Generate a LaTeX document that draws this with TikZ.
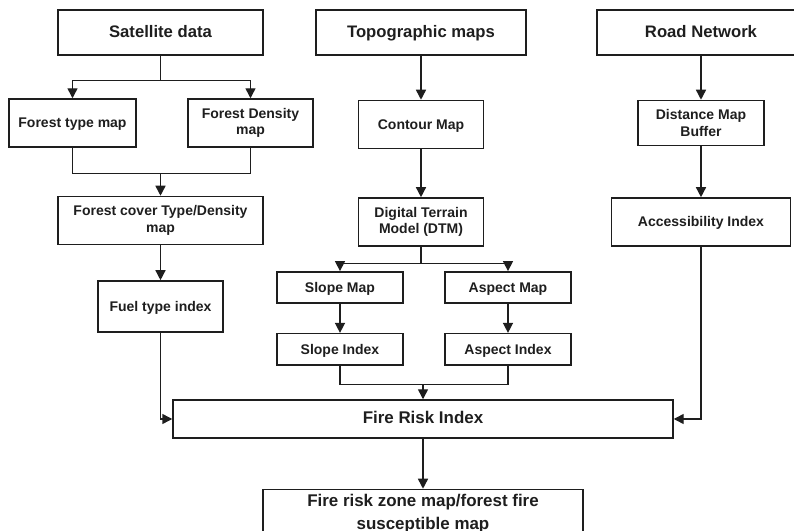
\documentclass[tikz,border=0pt]{standalone}
\usepackage{fontspec}
\setmainfont{Liberation Sans}
\usepackage{tikz}
\usetikzlibrary{arrows.meta,positioning}
\definecolor{frInk}{HTML}{1E1E1E}
\tikzset{
  hbox/.style={rectangle,draw=frInk,line width=1.1pt,
    minimum width=153.75pt,minimum height=33.75pt,inner sep=2pt,
    align=center,font=\fontsize{12.5}{15}\selectfont\bfseries,text=frInk},
  mbox/.style={rectangle,draw=frInk,line width=1.1pt,
    minimum width=93.75pt,minimum height=36pt,inner sep=2pt,
    align=center,font=\fontsize{10.5}{12.5}\selectfont\bfseries,text=frInk},
  ibox/.style={mbox,minimum height=23.5pt},
  rbox/.style={rectangle,draw=frInk,line width=1.1pt,
    minimum width=375pt,minimum height=28.5pt,inner sep=2pt,
    align=center,font=\fontsize{12.7}{17}\selectfont\bfseries,text=frInk},
  one/.style={text height=0.78em,text depth=0.06em},
  arr/.style={-{Triangle[length=7.5pt,width=7.5pt]},line width=1.1pt,draw=frInk},
  ln/.style={line width=1.1pt,draw=frInk},
}
\begin{document}
\begin{tikzpicture}[x=0.75pt,y=-0.75pt]
  \useasboundingbox (0,0) rectangle (794,531);
  \clip (0,0) rectangle (794,531);

  % sources
  \node[hbox,one] (sat) at (160.5,32.5) {Satellite data};
  \node[hbox,one,minimum width=157.5pt] (topo) at (421,32.5) {Topographic maps};
  \node[hbox,one,minimum width=156pt] (road) at (701,32.5) {Road Network};

  % satellite branch
  \node[mbox,one,minimum width=95.25pt] (ftype) at (72.5,123) {Forest type map};
  \node[mbox] (fdens) at (250.5,123) {Forest Density\\map};
  \node[mbox,minimum width=153.75pt,below=105pt of sat] (fcov)
    {Forest cover Type/Density\\map};
  \node[mbox,one,minimum height=38.25pt,below=26.25pt of fcov] (fuel)
    {Fuel type index};

  % terrain branch
  \node[mbox,one,below=33pt of topo] (cont) {Contour Map};
  \node[mbox,below=36pt of cont] (dtm) {Digital Terrain\\Model (DTM)};
  \node[ibox,one,minimum width=94.5pt] (slmap) at (340,287.5) {Slope Map};
  \node[ibox,one,minimum width=94.5pt] (asmap) at (508,287.5) {Aspect Map};
  \node[ibox,one,minimum width=94.5pt,below=21.75pt of slmap] (slidx) {Slope Index};
  \node[ibox,one,minimum width=94.5pt,below=21.75pt of asmap] (asidx) {Aspect Index};

  % road branch
  \node[mbox,minimum width=94.5pt,minimum height=33.75pt,below=33pt of road] (dist)
    {Distance Map\\Buffer};
  \node[mbox,one,minimum width=134.25pt,below=38.25pt of dist] (acc)
    {Accessibility Index};

  % result
  \node[rbox,one] (risk) at (423,419) {Fire Risk Index};
  \node[rbox,minimum width=240pt,minimum height=36pt,below=37.5pt of risk] (zone)
    {Fire risk zone map/forest fire\\susceptible map};

  % junctions
  \coordinate[below=18.75pt of sat.south] (satj);
  \coordinate[above=16.5pt of fcov.north] (fj);
  \coordinate[below=12.75pt of dtm.south] (dj);
  \coordinate[above=11.25pt of risk.north] (rj);

  \draw[ln] (sat) -- (satj);
  \draw[arr] (satj) -| (ftype.north);
  \draw[arr] (satj) -| (fdens.north);
  \draw[ln] (ftype.south) |- (fj);
  \draw[ln] (fdens.south) |- (fj);
  \draw[arr] (fj) -- (fcov.north);
  \draw[arr] (fcov) -- (fuel);
  \draw[arr] (fuel.south) |- (risk.west);

  \draw[arr] (topo) -- (cont);
  \draw[arr] (cont) -- (dtm);
  \draw[ln] (dtm) -- (dj);
  \draw[arr] (dj) -| (slmap.north);
  \draw[arr] (dj) -| (asmap.north);
  \draw[arr] (slmap) -- (slidx);
  \draw[arr] (asmap) -- (asidx);
  \draw[ln] (slidx.south) |- (rj);
  \draw[ln] (asidx.south) |- (rj);
  \draw[arr] (rj) -- (risk.north);

  \draw[arr] (road) -- (dist);
  \draw[arr] (dist) -- (acc);
  \draw[arr] (acc.south) |- (risk.east);

  \draw[arr] (risk) -- (zone);
\end{tikzpicture}
\end{document}
